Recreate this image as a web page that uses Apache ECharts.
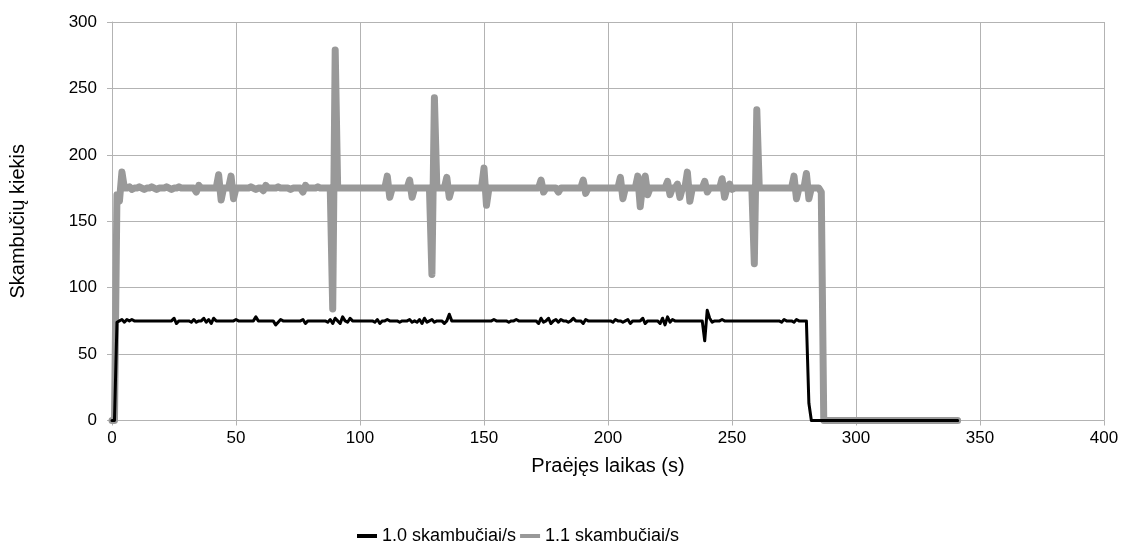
<!DOCTYPE html>
<html>
<head>
<meta charset="utf-8">
<script src="https://cdn.jsdelivr.net/npm/echarts@6/dist/echarts.min.js"></script>
<style>
html,body{margin:0;padding:0;background:#fff;}
#chart{width:1123px;height:552px;}
</style>
</head>
<body>
<div id="chart"></div>
<script>
// sampling: one value per second, starting at 0 s
const sampleStart = 0;
const sampleStep = 1;

const seriesNames = ['1.0 skambučiai/s', '1.1 skambučiai/s'];
const xTicks = [0, 50, 100, 150, 200, 250, 300, 350, 400];
const yTicks = [0, 50, 100, 150, 200, 250, 300];

// 1.0 skambučiai/s
const calls10 = [
  0,0,74,75,76,74,76,75,76,75,
  75,75,75,75,75,75,75,75,75,75,
  75,75,75,75,75,77,73,75,75,75,
  75,75,74,76,74,75,75,77,74,76,
  73,77,75,75,75,75,75,75,75,75,
  76,75,75,75,75,75,75,75,78,75,
  75,75,75,75,75,75,72,74,76,75,
  75,75,75,75,75,75,75,76,73,75,
  75,75,75,75,75,75,75,74,76,73,
  77,75,73,78,75,74,77,75,75,75,
  75,75,75,75,75,75,74,76,73,75,
  75,76,75,75,75,75,74,75,75,75,
  76,74,75,74,76,73,77,74,75,76,
  74,75,75,75,73,75,80,75,75,75,
  75,75,75,75,75,75,75,75,75,75,
  75,75,75,75,76,75,75,75,75,75,
  74,75,75,76,75,75,75,75,75,75,
  75,75,73,77,74,75,77,73,75,76,
  74,76,75,75,74,75,77,75,75,75,
  73,76,75,75,75,75,75,75,75,75,
  75,75,74,76,75,75,74,75,76,73,
  75,75,75,75,77,73,75,75,75,75,
  75,73,77,72,78,74,76,75,75,75,
  75,75,75,75,75,75,75,75,75,60,
  83,77,74,75,75,75,76,75,75,75,
  75,75,75,75,75,75,75,75,75,75,
  75,75,75,75,75,75,75,75,75,75,
  74,76,75,75,75,74,76,75,75,75,
  75,13,0,0,0,0,0,0,0,0,
  0,0,0,0,0,0,0,0,0,0,
  0,0,0,0,0,0,0,0,0,0,
  0,0,0,0,0,0,0,0,0,0,
  0,0,0,0,0,0,0,0,0,0,
  0,0,0,0,0,0,0,0,0,0,
  0,0
];

// 1.1 skambučiai/s
const calls11 = [
  0,0,170,165,187,175,175,176,174,175,
  175,176,175,174,175,175,176,175,174,175,
  175,175,176,175,174,175,175,176,175,175,
  175,175,175,175,172,177,175,175,175,175,
  175,175,175,185,166,175,175,175,184,167,
  175,175,175,175,175,175,176,175,174,175,
  175,173,177,175,175,175,175,176,175,175,
  175,175,174,175,175,175,175,172,177,175,
  175,175,175,176,175,175,175,175,175,84,
  279,175,175,175,175,175,175,175,175,175,
  175,175,175,175,175,175,175,175,175,175,
  175,184,168,175,175,175,175,175,175,175,
  181,168,175,175,175,175,175,175,175,110,
  243,175,175,175,175,183,168,175,175,175,
  175,175,175,175,175,175,175,175,175,175,
  190,162,175,175,175,175,175,175,175,175,
  175,175,175,175,175,175,175,175,175,175,
  175,175,175,181,172,175,175,175,175,175,
  172,175,175,175,175,175,175,175,175,175,
  181,171,175,175,175,175,175,175,175,175,
  175,175,175,175,175,183,167,175,175,175,
  175,175,184,161,178,184,170,175,175,175,
  175,175,175,175,180,170,175,175,178,168,
  175,175,187,165,175,175,175,175,175,180,
  172,175,175,175,175,175,182,168,175,178,
  174,175,175,175,175,175,175,175,175,118,
  234,175,175,175,175,175,175,175,175,175,
  175,175,175,175,175,184,167,175,175,175,
  186,167,175,175,175,175,172,0,0,0,
  0,0,0,0,0,0,0,0,0,0,
  0,0,0,0,0,0,0,0,0,0,
  0,0,0,0,0,0,0,0,0,0,
  0,0,0,0,0,0,0,0,0,0,
  0,0,0,0,0,0,0,0,0,0,
  0,0
];

function toPairs(arr) {
  return arr.map((v, i) => [sampleStart + i * sampleStep, v]);
}

const chart = echarts.init(document.getElementById('chart'), null, {renderer: 'canvas'});
const font = 'Liberation Sans, Arial, sans-serif';
const gridColor = '#b3b3b3';

chart.setOption({
  animation: false,
  backgroundColor: '#ffffff',
  textStyle: {fontFamily: font},
  grid: {left: 112, right: 19, top: 22, bottom: 131.5, containLabel: false},
  xAxis: {
    type: 'value',
    min: xTicks[0], max: xTicks[xTicks.length - 1], interval: 50,
    name: 'Praėjęs laikas (s)',
    nameLocation: 'middle',
    nameGap: 36,
    nameTextStyle: {fontFamily: font, fontSize: 20, color: '#000'},
    axisLine: {show: true, lineStyle: {color: gridColor, width: 1}},
    axisTick: {show: true, inside: false, length: 5, lineStyle: {color: gridColor}},
    axisLabel: {fontFamily: font, fontSize: 17, color: '#000', margin: 9},
    splitLine: {show: true, lineStyle: {color: gridColor, width: 1}}
  },
  yAxis: {
    type: 'value',
    min: yTicks[0], max: yTicks[yTicks.length - 1], interval: 50,
    name: 'Skambučių kiekis',
    nameLocation: 'middle',
    nameGap: 84,
    nameRotate: 90,
    nameTextStyle: {fontFamily: font, fontSize: 20, color: '#000'},
    axisLine: {show: true, lineStyle: {color: gridColor, width: 1}},
    axisTick: {show: true, inside: false, length: 5, lineStyle: {color: gridColor}},
    axisLabel: {fontFamily: font, fontSize: 17, color: '#000', margin: 15},
    splitLine: {show: true, lineStyle: {color: gridColor, width: 1}}
  },
  legend: {
    bottom: 2,
    left: 352,
    itemWidth: 20,
    itemHeight: 4,
    itemGap: 4,
    icon: 'rect',
    textStyle: {fontFamily: font, fontSize: 18, color: '#000'},
    data: [seriesNames[0], seriesNames[1]]
  },
  series: [
    {
      name: seriesNames[1],
      type: 'line',
      data: toPairs(calls11),
      showSymbol: false,
      symbol: 'none',
      color: '#999999',
      lineStyle: {color: '#999999', width: 7, cap: 'round', join: 'round'},
      z: 2
    },
    {
      name: seriesNames[0],
      type: 'line',
      data: toPairs(calls10),
      showSymbol: false,
      symbol: 'none',
      color: '#000000',
      lineStyle: {color: '#000000', width: 3, cap: 'round', join: 'round'},
      z: 3
    }
  ]
});
</script>
</body>
</html>
